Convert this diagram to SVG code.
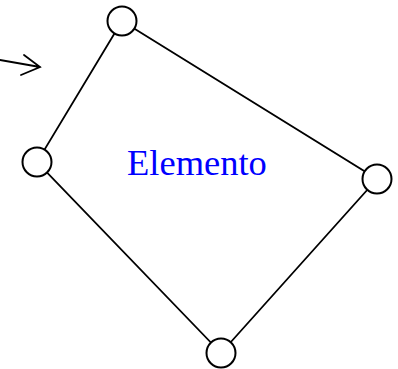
<svg xmlns="http://www.w3.org/2000/svg" width="398" height="369" viewBox="0 0 398 369">
<style>
.edge{stroke:#000;stroke-width:1.8;fill:none;stroke-linecap:round}
.node{fill:#fff;stroke:#000;stroke-width:2}
.label{font-family:"Liberation Serif",serif;font-size:36.5px;fill:#0000ff}
</style>
<rect width="398" height="369" fill="#fff"/>
<g id="connectors">
<polyline class="edge" points="122,21 37,162 221,353 377,179 122,21"/>
<path class="edge" d="M0,60 L40,67 M24,55 L40,67 L21,75"/>
</g>
<g id="node-top"><circle class="node" cx="122" cy="21" r="14.5"/></g>
<g id="node-left"><circle class="node" cx="37" cy="162" r="14.5"/></g>
<g id="node-bottom"><circle class="node" cx="221" cy="353" r="14.5"/></g>
<g id="node-right"><circle class="node" cx="377" cy="179" r="14.5"/></g>
<g id="label"><text class="label" x="127" y="175">Elemento</text></g>
</svg>
